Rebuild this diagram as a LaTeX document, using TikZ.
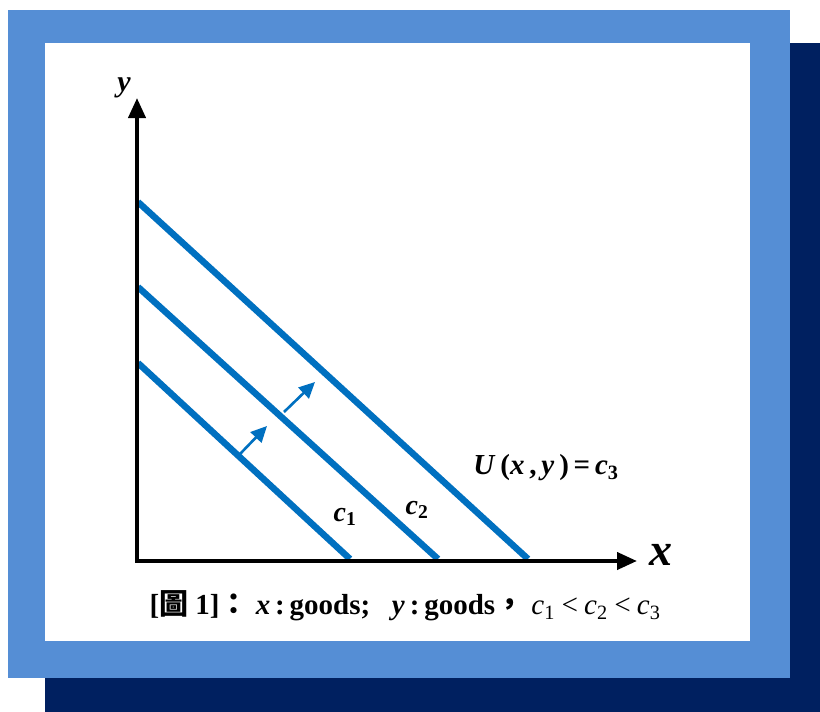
\documentclass[tikz,border=0pt]{standalone}
\usepackage{fontspec}
\setmainfont{Liberation Serif}
\newfontfamily\cjk{Noto Sans CJK TC}
\usetikzlibrary{arrows.meta}
\definecolor{frameblue}{RGB}{85,142,213}
\definecolor{navyshadow}{RGB}{0,32,96}
\definecolor{curveblue}{RGB}{0,112,192}
\begin{document}
\begin{tikzpicture}[x=1pt,y=-1pt,
  axisline/.style={line width=4pt,black,line join=miter,
    {Triangle[length=20pt,width=17pt]}-{Triangle[length=20pt,width=17pt]}},
  curve/.style={line width=6.5pt,curveblue},
  shift arrow/.style={line width=2.6pt,curveblue,-{Triangle[length=16pt,width=15pt]}},
  lbl/.style={inner sep=0pt,font=\bfseries\itshape}]
\useasboundingbox (0,0) rectangle (820,712);
\fill[navyshadow] (45,43) rectangle (820,712);
\fill[frameblue] (8,10) rectangle (790,678);
\fill[white] (45,43) rectangle (750,641);
% coordinates
\coordinate (O) at (137,561);
\coordinate (Ytip) at (137,98);
\coordinate (Xtip) at (637,561);
\coordinate (c3a) at (138,202);
\coordinate (c3b) at (528,559);
\coordinate (c2a) at (138,287);
\coordinate (c2b) at (438,559);
\coordinate (c1a) at (138,363);
\coordinate (c1b) at (350,559);
\coordinate (a1s) at (240,454);
\coordinate (a1e) at (267,426);
\coordinate (a2s) at (284,412);
\coordinate (a2e) at (315,382);
% indifference curves
\draw[curve] (c3a) -- (c3b);
\draw[curve] (c2a) -- (c2b);
\draw[curve] (c1a) -- (c1b);
% shift arrows
\draw[shift arrow] (a1s) -- (a1e);
\draw[shift arrow] (a2s) -- (a2e);
% axes
\draw[axisline] (Ytip) -- (O) -- (Xtip);
% labels
\node[lbl,font=\fontsize{30}{32}\selectfont\bfseries\itshape] (ylab) at (124,88) {y};
\node[lbl,font=\fontsize{46}{48}\selectfont\bfseries\itshape] (xlab) at (661,555) {x};
\node[lbl,font=\fontsize{28}{30}\selectfont\bfseries\itshape] (c1lab) at (345,517) {c\textsubscript{\upshape 1}};
\node[lbl,font=\fontsize{28}{30}\selectfont\bfseries\itshape] (c2lab) at (417,510) {c\textsubscript{\upshape 2}};
\node[lbl,font=\fontsize{29}{31}\selectfont\bfseries] (c3lab) at (546,468)
  {\textit{U}\,(\textit{x}\,,\,\textit{y}\,)\,=\,\textit{c}\textsubscript{3}};
\node[inner sep=0pt,font=\fontsize{29}{31}\selectfont\bfseries] (caption) at (405,606)
  {[{\cjk 圖} 1]{\cjk ：}\ \textit{x}\,:\,goods;\ \ \ \textit{y}\,:\,goods{\cjk ，}\ {\mdseries\itshape c\textsubscript{\upshape 1}\,<\,c\textsubscript{\upshape 2}\,<\,c\textsubscript{\upshape 3}}};
\end{tikzpicture}
\end{document}
